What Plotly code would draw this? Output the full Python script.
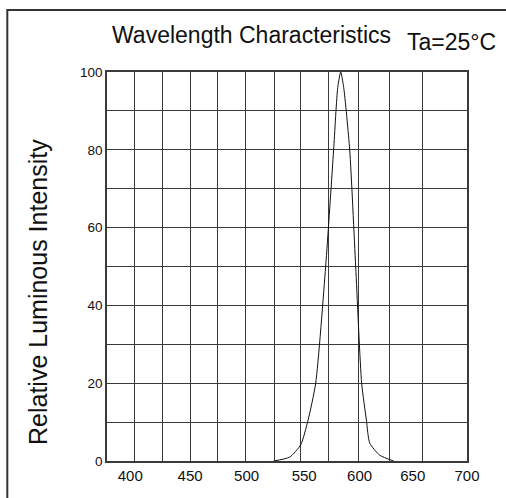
import plotly.graph_objects as go

# ---- data ----
wavelength_nm = [525.5, 539.9, 549.9, 556.5, 563.4, 572.4, 579.6, 583.3, 586.0,
                 588.7, 594.1, 599.5, 604.9, 609.2, 612.2, 621.2, 633.8]
relative_intensity = [0, 1, 4.2, 10.5, 20, 50, 80, 96, 100,
                      96, 80, 50, 20, 10.5, 4.6, 1.5, 0]

x_tick_positions = [396, 450, 501, 553, 603, 651, 700]
x_tick_labels = ["400", "450", "500", "550", "600", "650", "700"]
x_grid_positions = [400, 425, 450, 475, 500, 526, 550, 575, 602, 630, 660]

y_tick_values = [0, 20, 40, 60, 80, 100]
y_tick_labels = ["0", "20", "40", "60", "80", "100"]
y_grid_values = [10, 30, 50, 70, 90]

title_text = "Wavelength Characteristics"
condition_text = "Ta=25°C"
y_title_text = "Relative Luminous Intensity"

W, H = 506, 498
L, R, T, B = 107, 39, 72, 37
pw, ph = W - L - R, H - T - B

def px(x):
    return (x - L) / pw

def py(y):
    return (H - B - y) / ph

ARIAL = "Liberation Sans, Arial, sans-serif"
GRID = "#3a3a3a"

fig = go.Figure()
fig.add_trace(go.Scatter(x=wavelength_nm, y=relative_intensity, mode="lines",
                         line=dict(color="#111111", width=1, shape="spline", smoothing=0.6),
                         showlegend=False, hoverinfo="skip"))

fig.update_layout(
    width=W, height=H,
    margin=dict(l=L, r=R, t=T, b=B, pad=0),
    paper_bgcolor="white", plot_bgcolor="white",
    xaxis=dict(range=[375, 700], tickmode="array", tickvals=x_tick_positions,
               ticktext=x_tick_labels, showgrid=False, zeroline=False,
               showline=True, mirror=True, linecolor=GRID, linewidth=1.5,
               ticks="", tickfont=dict(family=ARIAL, size=15, color="#111"),
               minor=dict(tickmode="array", tickvals=x_grid_positions, showgrid=True,
                          gridcolor=GRID, gridwidth=1, ticks="")),
    yaxis=dict(range=[0, 100], tickmode="array", tickvals=y_tick_values,
               ticktext=y_tick_labels, showgrid=True, gridcolor=GRID, gridwidth=1,
               zeroline=False, showline=True, mirror=True, linecolor=GRID, linewidth=1.5,
               ticks="", tickfont=dict(family=ARIAL, size=13.5, color="#111"),
               minor=dict(tickmode="array", tickvals=y_grid_values, showgrid=True,
                          gridcolor=GRID, gridwidth=1, ticks="")),
    shapes=[dict(type="rect", xref="paper", yref="paper",
                 x0=px(7.3), x1=px(520), y0=py(512), y1=py(10),
                 line=dict(color="#333", width=2), fillcolor="rgba(0,0,0,0)")],
    annotations=[
        dict(text=title_text, xref="paper", yref="paper", x=px(251.5), y=py(35),
             xanchor="center", yanchor="middle", showarrow=False,
             font=dict(family=ARIAL, size=23, color="#111")),
        dict(text=condition_text, xref="paper", yref="paper", x=px(451.5), y=py(42),
             xanchor="center", yanchor="middle", showarrow=False,
             font=dict(family=ARIAL, size=23, color="#111")),
        dict(text=y_title_text, xref="paper", yref="paper", x=px(38), y=py(292),
             xanchor="center", yanchor="middle", showarrow=False, textangle=-90,
             font=dict(family=ARIAL, size=25, color="#111")),
    ],
)

fig.write_html("out.html", config={"displayModeBar": False},
               post_script="document.body.style.margin='0';")
